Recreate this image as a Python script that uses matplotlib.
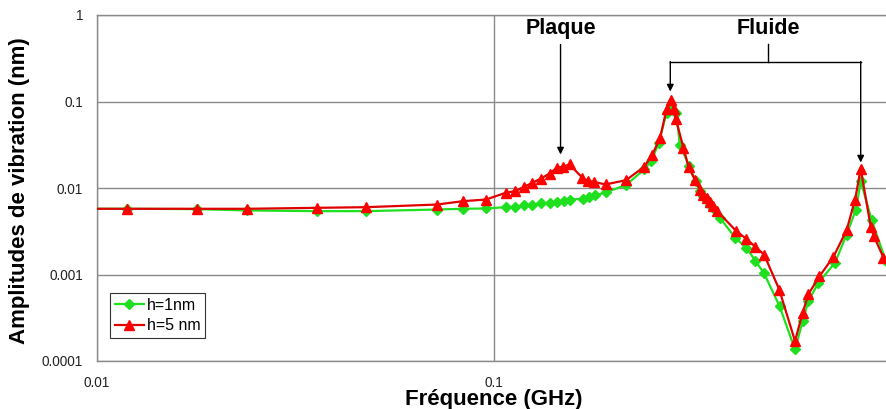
import matplotlib
matplotlib.use("Agg")
import matplotlib.pyplot as plt

plt.rcParams["font.family"] = ["Liberation Sans", "DejaVu Sans"]

# h = 1 nm (green diamonds)
freq_1nm = [0.0100, 0.0119, 0.0179, 0.0239, 0.0358, 0.0476, 0.0718, 0.0835, 0.0955,
            0.107, 0.113, 0.119, 0.125, 0.131, 0.138, 0.144, 0.150, 0.155, 0.168,
            0.173, 0.180, 0.191, 0.215, 0.239, 0.249, 0.260, 0.272, 0.279, 0.288,
            0.294, 0.310, 0.322, 0.330, 0.337, 0.343, 0.350, 0.357, 0.371, 0.405,
            0.432, 0.455, 0.479, 0.524, 0.573, 0.599, 0.619, 0.656, 0.723, 0.773,
            0.816, 0.839, 0.894, 0.971, 1.0]
amp_1nm = [0.00575, 0.00575, 0.0057, 0.0055, 0.0054, 0.0054, 0.00564, 0.00575, 0.0058,
           0.0060, 0.00607, 0.00628, 0.00644, 0.00662, 0.00675, 0.00693, 0.00704, 0.00736, 0.0075,
           0.0078, 0.0082, 0.0089, 0.0108, 0.0164, 0.0204, 0.0333, 0.074, 0.092, 0.074,
           0.031, 0.0182, 0.0120, 0.0092, 0.0080, 0.0073, 0.0064, 0.0058, 0.00452, 0.00266,
           0.00204, 0.00145, 0.00103, 0.00043, 0.000136, 0.000288, 0.000491, 0.00080, 0.00137, 0.0029,
           0.00564, 0.0120, 0.00424, 0.00143, 0.0012]

# h = 5 nm (red triangles)
freq_5nm = [0.0100, 0.0119, 0.0179, 0.0239, 0.0358, 0.0476, 0.0718, 0.0835, 0.0955,
            0.107, 0.113, 0.119, 0.125, 0.131, 0.138, 0.144, 0.149, 0.155, 0.167,
            0.172, 0.179, 0.191, 0.215, 0.239, 0.250, 0.262, 0.272, 0.279, 0.284,
            0.287, 0.300, 0.309, 0.321, 0.330, 0.337, 0.343, 0.350, 0.357, 0.365,
            0.407, 0.431, 0.455, 0.479, 0.523, 0.573, 0.599, 0.619, 0.660, 0.716,
            0.773, 0.812, 0.839, 0.889, 0.905, 0.957, 1.0]
amp_5nm = [0.00575, 0.00575, 0.00575, 0.00575, 0.0059, 0.0060, 0.00644, 0.00704, 0.00736,
           0.0088, 0.0092, 0.0103, 0.0115, 0.0128, 0.0147, 0.0171, 0.0176, 0.0187, 0.0131,
           0.0122, 0.0117, 0.0110, 0.0123, 0.0176, 0.0238, 0.038, 0.081, 0.105, 0.081,
           0.063, 0.0292, 0.0176, 0.0123, 0.0096, 0.0084, 0.0077, 0.0068, 0.0062, 0.0054,
           0.0032, 0.0026, 0.0021, 0.0017, 0.00067, 0.00017, 0.00036, 0.00059, 0.00095, 0.0016,
           0.00325, 0.00736, 0.0167, 0.00356, 0.0028, 0.00157, 0.0013]

y_ticks = [0.0001, 0.001, 0.01, 0.1, 1]
y_labels = ["0.0001", "0.001", "0.01", "0.1", "1"]
x_ticks = [0.01, 0.1]
x_labels = ["0.01", "0.1"]

GREEN = "#1ee01e"
RED = "#e00000"
GRID = "#8a8a8a"

fig = plt.figure(figsize=(8.87, 4.09), dpi=100)
ax = fig.add_axes([97 / 887, 48 / 409, 794 / 887, 346 / 409])
ax.set_xscale("log")
ax.set_yscale("log")

ax.plot(freq_1nm, amp_1nm, color=GREEN, lw=1.6, marker="D", ms=5.5,
        mfc=GREEN, mec=GREEN, markevery=list(range(1, len(freq_1nm))),
        label="h=1nm", zorder=3)
ax.plot(freq_5nm, amp_5nm, color=RED, lw=1.6, marker="^", ms=7.5,
        mfc="#ff0000", mec="#ff0000", markevery=list(range(1, len(freq_5nm))),
        label="h=5 nm", zorder=4)

ax.set_xlim(0.01, 1)
ax.set_ylim(0.0001, 1)
ax.set_yticks(y_ticks)
ax.set_yticklabels(y_labels)
ax.set_xticks(x_ticks)
ax.set_xticklabels(x_labels)
ax.minorticks_off()
ax.tick_params(length=0, labelsize=9.8, labelcolor="#222222")
ax.tick_params(axis="y", pad=10)
ax.tick_params(axis="x", pad=10.5)

ax.grid(True, which="major", color=GRID, lw=1)
ax.set_axisbelow(True)
for side in ("left", "bottom", "top", "right"):
    ax.spines[side].set_color(GRID)
    ax.spines[side].set_linewidth(1)

fig.text(494 / 887, 1 - 399 / 409, "Fréquence (GHz)", ha="center", va="center",
         fontsize=16, fontweight="bold")
fig.text(20 / 887, 1 - 191 / 409, "Amplitudes de vibration (nm)", ha="center",
         va="center", rotation=90, fontsize=16, fontweight="bold")

# annotations
arrow = dict(arrowstyle="-|>", color="black", lw=1, mutation_scale=10,
             shrinkA=0, shrinkB=0)
ax.text(0.1471, 0.70, "Plaque", ha="center", va="center", fontsize=15.5,
        fontweight="bold")
ax.annotate("", xy=(0.1471, 0.0244), xytext=(0.1471, 0.456), arrowprops=arrow)

ax.text(0.4914, 0.70, "Fluide", ha="center", va="center", fontsize=15.5,
        fontweight="bold")
ax.plot([0.4914, 0.4914], [0.456, 0.290], color="black", lw=1)
ax.plot([0.2780, 0.8388], [0.290, 0.290], color="black", lw=1)
ax.annotate("", xy=(0.2780, 0.1305), xytext=(0.2780, 0.290), arrowprops=arrow)
ax.annotate("", xy=(0.8388, 0.0197), xytext=(0.8388, 0.290), arrowprops=arrow)

leg = ax.legend(loc="upper left", bbox_to_anchor=(0.0164, 0.1965),
                borderaxespad=0, fontsize=11.5, frameon=True, fancybox=False,
                handlelength=1.8, handletextpad=0.2, borderpad=0.3,
                labelspacing=0.35)
leg.get_frame().set_edgecolor("black")
leg.get_frame().set_linewidth(0.8)

fig.savefig("out.png", dpi=100)
